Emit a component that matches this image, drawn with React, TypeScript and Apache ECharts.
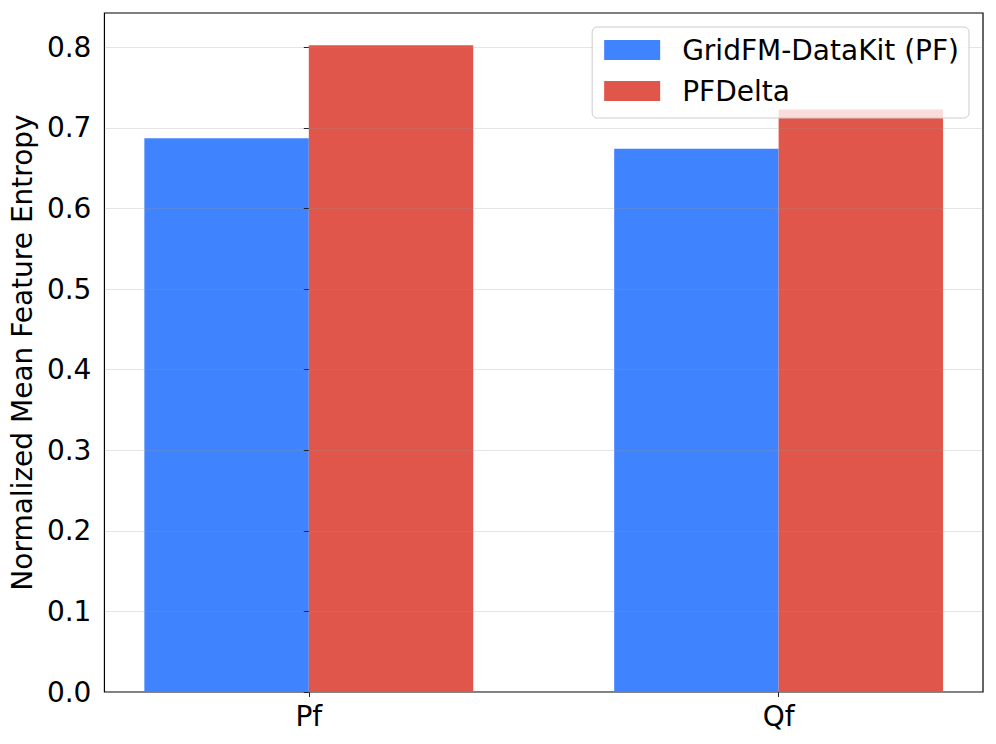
import React, { useEffect, useRef } from "react";
import * as echarts from "echarts";

const categories = ["Pf", "Qf"];
const gridfmValues = [0.687, 0.674];
const pfdeltaValues = [0.8025, 0.7227];
const seriesNames = ["GridFM-DataKit (PF)", "PFDelta"];
const yTicks = [0, 0.1, 0.2, 0.3, 0.4, 0.5, 0.6, 0.7, 0.8];

const BAR_W = 0.35;
const FONT = "DejaVu Sans";
const BLUE = "#4083fe";
const RED = "#e0564b";

function makeSeries(name: string, values: number[], offset: number, color: string) {
  return {
    type: "custom",
    name,
    itemStyle: { color },
    data: values.map((v, i) => [i, v]),
    encode: { x: 0, y: 1 },
    z: 2,
    renderItem: (_params: any, api: any) => {
      const x = api.value(0) as number;
      const v = api.value(1) as number;
      const p0 = api.coord([x + offset - BAR_W / 2, v]);
      const p1 = api.coord([x + offset + BAR_W / 2, 0]);
      return {
        type: "rect",
        shape: { x: p0[0], y: p0[1], width: p1[0] - p0[0], height: p1[1] - p0[1] },
        style: { fill: color },
      };
    },
  };
}

export default function App() {
  const ref = useRef<HTMLDivElement>(null);
  useEffect(() => {
    if (!ref.current) return;
    const chart = echarts.init(ref.current, null, { renderer: "svg" });
    chart.setOption({
      animation: false,
      backgroundColor: "#ffffff",
      textStyle: { fontFamily: FONT },
      grid: {
        left: 104,
        right: 13,
        top: 13,
        bottom: 52,
        show: true,
        borderColor: "#000",
        borderWidth: 1.2,
        backgroundColor: "transparent",
      },
      legend: {
        orient: "vertical",
        right: 27,
        top: 27,
        z: 10,
        padding: [9, 10, 13, 12],
        itemGap: 13,
        itemWidth: 56,
        itemHeight: 20,
        backgroundColor: "rgba(255,255,255,0.8)",
        borderColor: "#cccccc",
        borderWidth: 1,
        borderRadius: 5,
        textStyle: { fontFamily: FONT, fontSize: 28, color: "#000", lineHeight: 28, padding: [0, 0, 0, 17] },
        data: seriesNames.map((n) => ({ name: n, icon: "rect" })),
      },
      xAxis: {
        type: "value",
        min: -0.435,
        max: 1.435,
        axisLine: { show: false },
        splitLine: { show: false },
        axisTick: {
          show: true,
          customValues: categories.map((_, i) => i),
          length: 5,
          lineStyle: { color: "#222", width: 1 },
        },
        axisLabel: {
          customValues: categories.map((_, i) => i),
          formatter: (v: number) => categories[Math.round(v)] ?? "",
          fontFamily: FONT,
          fontSize: 28,
          color: "#000",
          margin: 10,
        },
      },
      yAxis: {
        type: "value",
        min: 0,
        max: 0.8425,
        interval: 0.1,
        z: 3,
        name: "Normalized Mean Feature Entropy",
        nameLocation: "middle",
        nameGap: 62,
        nameTextStyle: { fontFamily: FONT, fontSize: 28, color: "#000" },
        axisLine: { show: false },
        axisTick: {
          show: true,
          customValues: yTicks,
          length: 5,
          lineStyle: { color: "#222", width: 1 },
        },
        axisLabel: {
          customValues: yTicks,
          formatter: (v: number) => v.toFixed(1),
          fontFamily: FONT,
          fontSize: 28,
          color: "#000",
          margin: 13,
        },
        splitLine: {
          show: true,
          lineStyle: { color: "rgba(150,150,150,0.25)", width: 1 },
        },
      },
      series: [
        makeSeries(seriesNames[0], gridfmValues, -BAR_W / 2, BLUE),
        makeSeries(seriesNames[1], pfdeltaValues, BAR_W / 2, RED),
      ],
    });
    return () => chart.dispose();
  }, []);
  return <div ref={ref} style={{ width: 996, height: 744, position: "absolute", left: 0, top: 0 }} />;
}
